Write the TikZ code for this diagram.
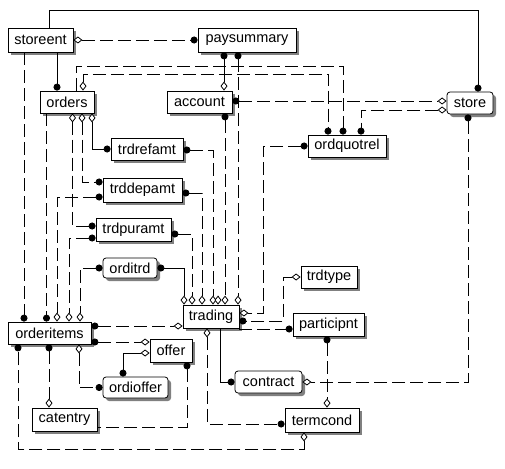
\documentclass[tikz,border=0pt]{standalone}
\usepackage{fontspec}
\setmainfont{Liberation Sans}
\usetikzlibrary{arrows.meta,shadows}
\tikzset{
  Dt/.tip={Circle[length=7pt,width=7pt]},
  Dm/.tip={Diamond[length=9pt,width=7pt,fill=white]},
}
\begin{document}
\begin{tikzpicture}[x=1pt,y=-1pt,
  ent/.style={draw, fill=white, line width=0.8pt, inner sep=0pt,
    font=\fontsize{14.5}{16}\selectfont,
    drop shadow={shadow xshift=3pt,shadow yshift=-3pt,fill=black!50,opacity=1}},
  rnd/.style={ent, rounded corners=3pt},
  rel/.style={line width=0.8pt},
  dsh/.style={rel, dash pattern=on 13pt off 5pt},
]
\useasboundingbox (0,0) rectangle (505,468);
% entities
\node[ent, minimum width=65pt, minimum height=24pt] (storeent) at (40.5,40) {storeent};
\node[ent, minimum width=98pt, minimum height=24pt] (paysummary) at (247,40) {paysummary};
\node[ent, minimum width=54pt, minimum height=22pt] (orders) at (67,102) {orders};
\node[ent, minimum width=65pt, minimum height=22pt] (account) at (199.5,102) {account};
\node[rnd, minimum width=46pt, minimum height=22pt] (store) at (470,103) {store};
\node[ent, minimum width=72pt, minimum height=22pt] (trdrefamt) at (147,149) {trdrefamt};
\node[ent, minimum width=78pt, minimum height=22pt] (ordquotrel) at (347,146) {ordquotrel};
\node[ent, minimum width=79pt, minimum height=24pt] (trddepamt) at (142.5,190) {trddepamt};
\node[ent, minimum width=75pt, minimum height=23pt] (trdpuramt) at (133.5,229.5) {trdpuramt};
\node[rnd, minimum width=54pt, minimum height=20pt] (orditrd) at (130,268) {orditrd};
\node[ent, minimum width=56pt, minimum height=22pt] (trdtype) at (329,277) {trdtype};
\node[ent, minimum width=56pt, minimum height=23pt] (trading) at (211,316.5) {trading};
\node[ent, minimum width=83pt, minimum height=22pt] (orderitems) at (49.5,333) {orderitems};
\node[ent, minimum width=71pt, minimum height=23pt] (participnt) at (328.5,324.5) {participnt};
\node[ent, minimum width=42pt, minimum height=23pt] (offer) at (171,350.5) {offer};
\node[rnd, minimum width=67pt, minimum height=22pt] (contract) at (268.5,382) {contract};
\node[rnd, minimum width=65pt, minimum height=21pt] (ordioffer) at (135.5,387.5) {ordioffer};
\node[ent, minimum width=65pt, minimum height=23pt] (catentry) at (64.5,419.5) {catentry};
\node[ent, minimum width=74pt, minimum height=24pt] (termcond) at (322,420) {termcond};
% connectors
\draw[rel,-Dt] (storeent.north -| 49,0) |- (478,10) -- (store.north -| 478,0);
\draw[dsh,Dm-Dt] (storeent.east) -- (paysummary.west);
\draw[rel,-Dt] (storeent.south -| 57,0) -- (orders.north -| 57,0);
\draw[dsh,-Dt] (storeent.south -| 24,0) -- (orderitems.north -| 24,0);
\draw[dsh,-Dt] (orders.north -| 76,0) |- (343,66) -- (ordquotrel.north -| 343,0);
\draw[dsh,Dm-Dt] (orders.north -| 83,0) |- (328,74) -- (ordquotrel.north -| 328,0);
\draw[dsh,-Dt] (orders.south -| 46.5,0) -- (orderitems.north -| 46.5,0);
\draw[rel,Dm-Dt] (orders.south -| 92,0) |- (trdrefamt.west);
\draw[dsh,Dm-Dt] (orders.south -| 82,0) |- (trddepamt.west |- 0,182);
\draw[dsh,Dm-Dt] (orders.south -| 72.5,0) |- (trdpuramt.west |- 0,226);
\draw[dsh,Dt-Dm] (trddepamt.west |- 0,197) -| (orderitems.north -| 57,0);
\draw[dsh,Dt-Dm] (trdpuramt.west |- 0,238) -| (orderitems.north -| 69,0);
\draw[dsh,Dt-Dm] (orditrd.west) -| (orderitems.north -| 80,0);
\draw[dsh,Dt-Dm] (trdrefamt.east |- 0,150) -| (trading.north -| 213,0);
\draw[dsh,Dt-Dm] (trddepamt.east |- 0,193) -| (trading.north -| 202,0);
\draw[dsh,Dt-Dm] (trdpuramt.east |- 0,234) -| (trading.north -| 192,0);
\draw[rel,Dt-Dm] (orditrd.east) -| (trading.north -| 184,0);
\draw[dsh,Dt-Dm] (account.south -| 225,0) -- (trading.north -| 225,0);
\draw[dsh,Dt-Dm] (paysummary.south -| 238,0) -- (trading.north -| 238,0);
\draw[rel,Dt-Dm] (paysummary.south -| 224,0) -- (account.north -| 224,0);
\draw[rel,-Dm] (trading.north -| 218,0) ++(0,-9) -- (trading.north -| 218,0);
\draw[dsh,Dt-Dm] (account.east |- 0,101) -- (store.west |- 0,101);
\draw[dsh,Dm-Dt] (store.west |- 0,110) -| (ordquotrel.north -| 361,0);
\draw[dsh,Dt-Dm] (store.south -| 468,0) |- (contract.east);
\draw[dsh,Dt-Dm] (ordquotrel.west) -| (263,313) -- (trading.east |- 0,313);
\draw[dsh,Dm-Dt] (trdtype.west) -| (283,321) -- (trading.east |- 0,321);
\draw[dsh,-Dt] (trading.east |- 0,329) -- (participnt.west |- 0,329);
\draw[dsh,Dt-Dm] (participnt.south -| 327,0) -- (termcond.north -| 327,0);
\draw[rel,-Dt] (trading.south -| 220,0) |- (contract.west);
\draw[dsh,Dm-Dt] (trading.south -| 207,0) |- (termcond.west |- 0,424);
\draw[dsh,Dm-Dt] (termcond.south -| 304,0) |- (18,449) -- (orderitems.south -| 18,0);
\draw[dsh,Dt-Dm] (orderitems.east |- 0,326) -- (trading.west |- 0,326);
\draw[dsh,Dt-Dm] (orderitems.east |- 0,342) -- (offer.west |- 0,342);
\draw[rel,Dm-Dt] (offer.west |- 0,353) -| (ordioffer.north -| 123,0);
\draw[dsh,Dm-Dt] (orderitems.south -| 79,0) |- (ordioffer.west);
\draw[dsh,Dt-Dm] (orderitems.south -| 49,0) -- (catentry.north -| 49,0);
\draw[dsh,Dt-] (offer.south -| 187,0) |- (catentry.east |- 0,427);
\end{tikzpicture}
\end{document}
